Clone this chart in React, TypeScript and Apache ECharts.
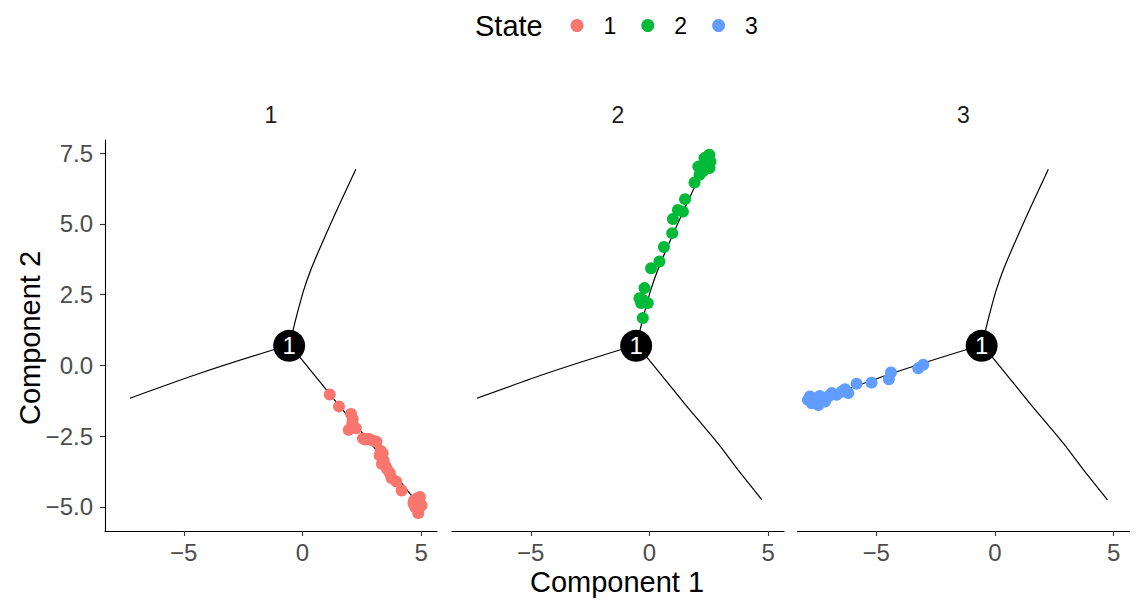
import React, { useEffect, useRef } from "react";
import * as echarts from "echarts";

const states = ["1", "2", "3"];
const stateColors = ["#F8766D", "#00BA38", "#619CFF"];
const xTicks = [-5, 0, 5];
const yTicks = [-5, -2.5, 0, 2.5, 5, 7.5];
const xRange = [-8.32, 5.67];
const yRange = [-5.85, 7.96];

const branchNode = [[-0.56, 0.69]];
const branchUpper = [
  [-0.56, 0.69], [-0.38, 1.3], [-0.18, 1.96], [0.05, 2.65], [0.35, 3.37],
  [0.72, 4.11], [1.12, 4.87], [1.65, 5.85], [2.25, 6.93],
];
const branchLeft = [
  [-0.56, 0.69], [-1.22, 0.55], [-4.32, -0.28], [-7.27, -1.16],
];
const branchLower = [
  [-0.56, 0.69], [-0.07, 0.25], [1.47, -1.34], [2.88, -2.75], [3.73, -3.69], [4.74, -4.75],
];

const state1Points = [
  [1.15, -1.03], [1.54, -1.45], [2.05, -1.72], [2.12, -1.9], [1.95, -2.28], [2.25, -2.22],
  [2.1, -2.05], [2.55, -2.58], [2.65, -2.62], [2.8, -2.6], [2.95, -2.65], [3.12, -2.7],
  [3.25, -3.18], [3.3, -3.02], [3.38, -3.1], [3.42, -3.36], [3.35, -3.48], [3.5, -3.55],
  [3.56, -3.66], [3.68, -3.8], [3.75, -3.98], [3.95, -4.1], [4.18, -4.42], [4.7, -4.78],
  [4.82, -4.7], [4.92, -4.82], [5.02, -4.95], [4.75, -5.0], [4.88, -5.22], [4.68, -4.88],
  [4.95, -4.65], [4.85, -5.05],
];
const state2Points = [
  [-0.28, 1.67], [-0.42, 2.37], [-0.21, 2.73], [-0.07, 2.2], [-0.35, 2.2], [-0.27, 2.31],
  [0.07, 3.43], [0.42, 3.67], [0.61, 4.18], [0.96, 4.67], [0.99, 5.17], [1.2, 5.49],
  [1.41, 5.43], [1.5, 5.87], [1.9, 6.46], [2.11, 6.73], [2.06, 7.02], [2.46, 7.38],
  [2.57, 7.2], [2.53, 6.97], [2.32, 7.32], [2.25, 6.85], [2.39, 7.08], [2.52, 7.44],
];
const state3Points = [
  [-3.02, 0.02], [-3.23, -0.1], [-4.38, -0.25], [-4.47, -0.49], [-5.2, -0.61], [-5.83, -0.65],
  [-6.18, -0.98], [-6.32, -0.84], [-6.67, -1.04], [-7.02, -1.1], [-7.3, -1.16], [-7.58, -1.22],
  [-7.72, -1.34], [-7.44, -1.4], [-7.16, -1.28], [-7.8, -1.1], [-6.88, -0.98], [-6.46, -0.93],
  [-7.67, -1.15], [-7.38, -1.08], [-7.88, -1.22],
];
const statePoints = [state1Points, state2Points, state3Points];
const panelTitles = ["1", "2", "3"];

const FONT = "'Liberation Sans', Arial, Helvetica, sans-serif";
const gridLefts = [105, 452, 797.5];
const gridTop = 140;
const gridW = 332;
const gridH = 391;

const fmt = (v: number, dec: number) =>
  v < 0 ? "\u2212" + Math.abs(v).toFixed(dec) : v.toFixed(dec);

export default function App() {
  const ref = useRef<HTMLDivElement>(null);
  useEffect(() => {
    if (!ref.current) return;
    const chart = echarts.init(ref.current, null, { renderer: "svg" });
    const grids = gridLefts.map((l) => ({ left: l, top: gridTop, width: gridW, height: gridH }));
    const xAxes = gridLefts.map((_, i) => ({
      type: "value",
      gridIndex: i,
      min: xRange[0],
      max: xRange[1],
      axisLine: { show: true, onZero: false, lineStyle: { color: "#000", width: 1.1 } },
      axisTick: { show: true, length: 5, customValues: xTicks, lineStyle: { color: "#333", width: 1.1 } },
      axisLabel: {
        customValues: xTicks,
        formatter: (v: number) => fmt(v, 0),
        color: "#4D4D4D",
        fontSize: 24,
        fontFamily: FONT,
        margin: 9,
      },
      splitLine: { show: false },
    }));
    const yAxes = gridLefts.map((_, i) => ({
      type: "value",
      gridIndex: i,
      min: yRange[0],
      max: yRange[1],
      show: i === 0,
      axisLine: { show: true, onZero: false, lineStyle: { color: "#000", width: 1.1 } },
      axisTick: { show: true, length: 5, customValues: yTicks, lineStyle: { color: "#333", width: 1.1 } },
      axisLabel: {
        customValues: yTicks,
        formatter: (v: number) => fmt(v, 1),
        color: "#4D4D4D",
        fontSize: 24,
        fontFamily: FONT,
        margin: 12,
      },
      splitLine: { show: false },
    }));
    const series: any[] = [];
    gridLefts.forEach((_, i) => {
      [branchUpper, branchLeft, branchLower].forEach((b) => {
        series.push({
          type: "line",
          xAxisIndex: i,
          yAxisIndex: i,
          data: b,
          symbol: "none",
          smooth: 0.2,
          lineStyle: { color: "#000", width: 1.2 },
          z: 1,
          silent: true,
        });
      });
    });
    states.forEach((s, i) => {
      series.push({
        type: "scatter",
        name: s,
        xAxisIndex: i,
        yAxisIndex: i,
        data: statePoints[i],
        symbol: "circle",
        symbolSize: 12,
        itemStyle: { color: stateColors[i], opacity: 1 },
        z: 2,
      });
    });
    gridLefts.forEach((_, i) => {
      series.push({
        type: "scatter",
        xAxisIndex: i,
        yAxisIndex: i,
        data: branchNode,
        symbol: "circle",
        symbolSize: 32,
        itemStyle: { color: "#000", opacity: 1 },
        label: {
          show: true,
          position: "inside",
          formatter: "1",
          color: "#fff",
          fontSize: 24,
          fontFamily: FONT,
        },
        z: 3,
      });
    });
    const graphic: any[] = [
      {
        type: "text",
        left: 475,
        top: 11,
        style: { text: "State", font: `29px ${FONT}`, fill: "#000" },
      },
      {
        type: "text",
        x: 617,
        y: 582,
        style: { text: "Component 1", font: `29px ${FONT}`, fill: "#000", textAlign: "center", textVerticalAlign: "middle" },
      },
      {
        type: "text",
        x: 30,
        y: 338,
        rotation: Math.PI / 2,
        style: { text: "Component 2", font: `29px ${FONT}`, fill: "#000", textAlign: "center", textVerticalAlign: "middle" },
      },
      ...panelTitles.map((t, i) => ({
        type: "text",
        x: gridLefts[i] + gridW / 2,
        y: 115,
        style: { text: t, font: `23px ${FONT}`, fill: "#1A1A1A", textAlign: "center", textVerticalAlign: "middle" },
      })),
    ];
    chart.setOption({
      animation: false,
      backgroundColor: "#fff",
      textStyle: { fontFamily: FONT },
      grid: grids,
      xAxis: xAxes,
      yAxis: yAxes,
      legend: {
        data: states.map((s) => ({ name: s, icon: "circle" })),
        left: 570.5,
        top: 14,
        padding: 0,
        itemWidth: 13,
        itemHeight: 13,
        itemGap: 25,
        textStyle: { fontSize: 23, fontFamily: FONT, color: "#000", padding: [0, 0, 0, 15] },
        selectedMode: false,
      },
      series,
      graphic,
    });
    return () => chart.dispose();
  }, []);
  return (
    <div
      ref={ref}
      style={{ position: "fixed", left: 0, top: 0, width: 1139, height: 601, background: "#fff" }}
    />
  );
}
